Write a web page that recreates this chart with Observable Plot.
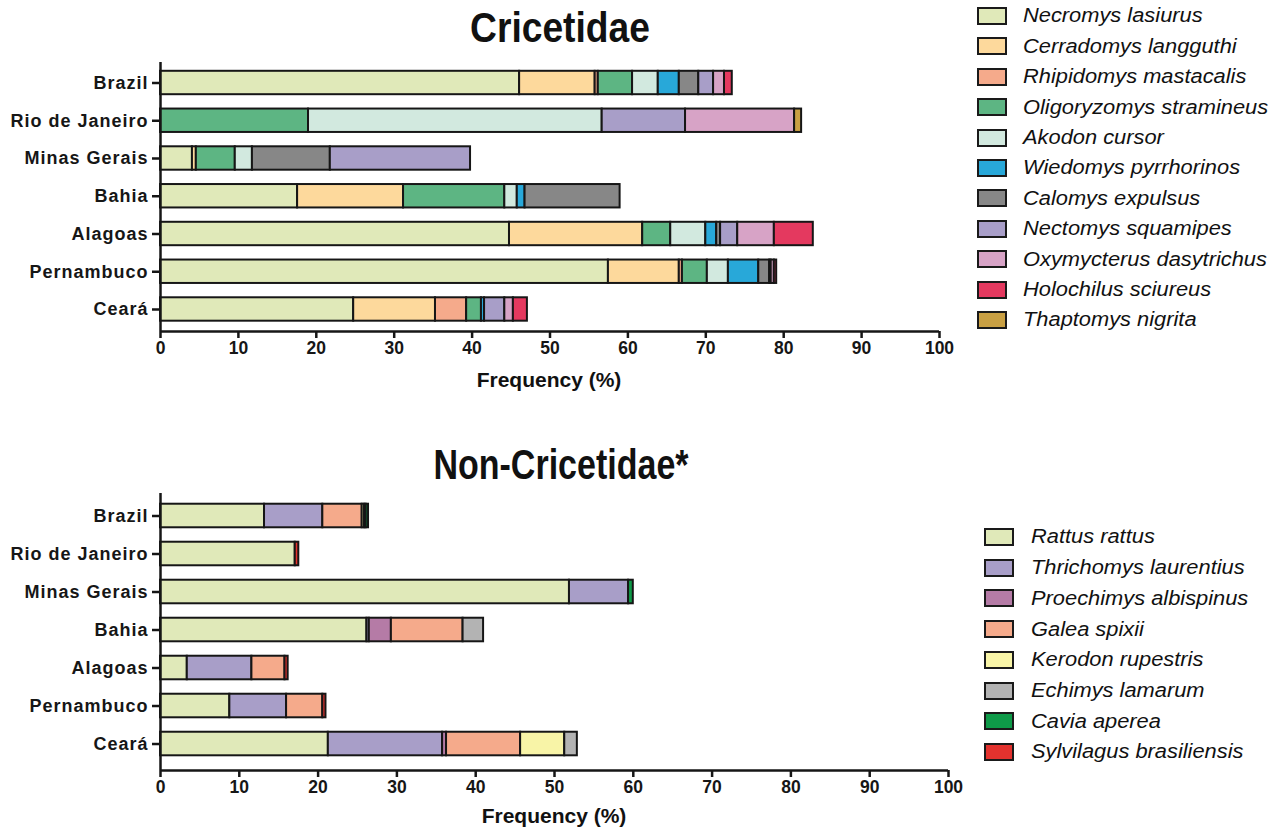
<!DOCTYPE html>
<html>
<head>
<meta charset="utf-8">
<script src="https://cdn.jsdelivr.net/npm/d3@7"></script>
<script src="https://cdn.jsdelivr.net/npm/@observablehq/plot@0.6"></script>
<style>
  html, body { margin: 0; padding: 0; background: #fff; }
  #wrap { position: relative; width: 1282px; height: 829px; overflow: hidden; background: #fff; }
  .title { font-family: 'Liberation Sans', Arial, sans-serif; font-weight: bold; font-size: 42px; line-height: 1; color: #111; white-space: nowrap; text-align: center; }
  .xlabel { font-family: 'Liberation Sans', Arial, sans-serif; font-weight: bold; font-size: 21px; line-height: 1; text-align: center; color: #111; white-space: nowrap; }
  .leg-sw { position: absolute; box-sizing: border-box; border: 2px solid #1a1a1a; }
  .leg-tx { position: absolute; font-family: 'Liberation Sans', Arial, sans-serif; font-style: italic; font-size: 19.5px; line-height: 1; color: #111; white-space: nowrap; transform: scaleX(1.12); transform-origin: left center; }
  .rchart [aria-label="y-axis tick label"] { letter-spacing: 1px; }
</style>
</head>
<body>
<div id="wrap"></div>
<script>
// ---------- data ----------
const regions = ["Brazil", "Rio de Janeiro", "Minas Gerais", "Bahia", "Alagoas", "Pernambuco", "Ceará"];
const xTicks = [0, 10, 20, 30, 40, 50, 60, 70, 80, 90, 100];

// Cricetidae species (legend order = stacking order)
const cricetidaeSpecies = ["Necromys lasiurus", "Cerradomys langguthi", "Rhipidomys mastacalis", "Oligoryzomys stramineus", "Akodon cursor", "Wiedomys pyrrhorinos", "Calomys expulsus", "Nectomys squamipes", "Oxymycterus dasytrichus", "Holochilus sciureus", "Thaptomys nigrita"];
const cricetidaeColors = ["#e0e9b9", "#fdd99c", "#f5aa8b", "#5db583", "#d2e9df", "#28a8d9", "#878787", "#a89ec8", "#d7a3c6", "#e4395f", "#c9a043"];
// values per region: Brazil, RJ, MG, Bahia, Alagoas, Pernambuco, Ceará
const necromysLasiurus       = [46.1,  0.0,  4.1, 17.6, 44.8, 57.5, 24.8];
const cerradomysLangguthi    = [ 9.7,  0.0,  0.5, 13.6, 17.1,  9.1, 10.5];
const rhipidomysMastacalis   = [ 0.4,  0.0,  0.0,  0.0,  0.0,  0.4,  4.0];
const oligoryzomysStramineus = [ 4.4, 19.0,  5.0, 13.0,  3.6,  3.2,  1.9];
const akodonCursor           = [ 3.3, 37.7,  2.2,  1.6,  4.5,  2.7,  0.0];
const wiedomysPyrrhorinos    = [ 2.7,  0.0,  0.0,  1.0,  1.4,  3.9,  0.4];
const calomysExpulsus        = [ 2.5,  0.0, 10.0, 12.2,  0.5,  1.4,  0.0];
const nectomysSquamipes      = [ 1.9, 10.7, 18.0,  0.0,  2.2,  0.2,  2.6];
const oxymycterusDasytrichus = [ 1.4, 14.0,  0.0,  0.0,  4.7,  0.4,  1.1];
const holochilusSciureus     = [ 1.0,  0.0,  0.0,  0.0,  5.0,  0.3,  1.8];
const thaptomysNigrita       = [ 0.0,  0.9,  0.0,  0.0,  0.0,  0.0,  0.0];
const cricetidaeSeries = [necromysLasiurus, cerradomysLangguthi, rhipidomysMastacalis, oligoryzomysStramineus, akodonCursor, wiedomysPyrrhorinos, calomysExpulsus, nectomysSquamipes, oxymycterusDasytrichus, holochilusSciureus, thaptomysNigrita];

// Non-Cricetidae species
const nonCricetidaeSpecies = ["Rattus rattus", "Thrichomys laurentius", "Proechimys albispinus", "Galea spixii", "Kerodon rupestris", "Echimys lamarum", "Cavia aperea", "Sylvilagus brasiliensis"];
const nonCricetidaeColors = ["#e0e9b9", "#a89ec8", "#b57ba6", "#f5aa8b", "#f8f4a7", "#b3b3b3", "#0e9a48", "#e3322e"];
const rattusRattus           = [13.2, 17.1, 51.9, 26.2,  3.4,  8.8, 21.3];
const thrichomysLaurentius   = [ 7.4,  0.0,  7.5,  0.3,  8.2,  7.2, 14.5];
const proechimysAlbispinus   = [ 0.0,  0.0,  0.0,  2.8,  0.0,  0.0,  0.5];
const galeaSpixii            = [ 5.0,  0.0,  0.0,  9.1,  4.2,  4.6,  9.4];
const kerodonRupestris       = [ 0.3,  0.0,  0.0,  0.0,  0.0,  0.0,  5.6];
const echimysLamarum         = [ 0.2,  0.0,  0.0,  2.6,  0.0,  0.0,  1.6];
const caviaAperea            = [ 0.3,  0.0,  0.6,  0.0,  0.0,  0.0,  0.0];
const sylvilagusBrasiliensis = [ 0.0,  0.45, 0.0,  0.0,  0.4,  0.4,  0.0];
const nonCricetidaeSeries = [rattusRattus, thrichomysLaurentius, proechimysAlbispinus, galeaSpixii, kerodonRupestris, echimysLamarum, caviaAperea, sylvilagusBrasiliensis];

// ---------- helpers ----------
function tidy(speciesList, seriesList) {
  const rows = [];
  speciesList.forEach((sp, s) => {
    regions.forEach((r, i) => {
      const v = seriesList[s][i];
      if (v > 0) rows.push({region: r, idx: i, species: sp, value: v});
    });
  });
  return rows;
}

const FONT = "'Liberation Sans', Arial, sans-serif";
const INK = "#161616";

function chart({species, colors, series, width, height, mL, mR, mT, mB, yDomain}) {
  const rows = tidy(species, series);
  const half = 0.31;
  return Plot.plot({
    className: "rchart",
    width, height,
    marginLeft: mL, marginRight: mR, marginTop: mT, marginBottom: mB,
    style: {background: "transparent", color: INK, fontFamily: FONT, overflow: "visible"},
    x: {domain: [0, 100]},
    y: {domain: yDomain, reverse: true},
    color: {domain: species, range: colors},
    marks: [
      Plot.rect(rows, Plot.stackX({
        x: "value",
        y1: d => d.idx - half,
        y2: d => d.idx + half,
        fill: "species",
        stroke: INK,
        strokeWidth: 2
      })),
      Plot.ruleX([0], {stroke: INK, strokeWidth: 2.5}),
      Plot.ruleY([yDomain[1]], {stroke: INK, strokeWidth: 2.5}),
      Plot.axisX({ticks: xTicks, tickFormat: d => String(d), tickSize: 7, tickPadding: 3, stroke: INK, strokeWidth: 2.5,
                  fontSize: 17.5, fontWeight: "bold", fontFamily: FONT, label: null}),
      Plot.axisY({ticks: d3.range(regions.length), tickFormat: i => regions[i], tickSize: 8, tickPadding: 4,
                  stroke: INK, strokeWidth: 2.5, fontSize: 18, fontWeight: "bold", fontFamily: FONT, label: null})
    ]
  });
}

const wrap = document.getElementById("wrap");
function place(el, left, topPx) {
  el.style.position = "absolute";
  el.style.left = left + "px";
  el.style.top = topPx + "px";
  wrap.appendChild(el);
  return el;
}
function div(cls, text, left, topPx, width) {
  const d = document.createElement("div");
  d.className = cls;
  d.textContent = text;
  if (width != null) d.style.width = width + "px";
  return place(d, left, topPx);
}

// ---------- top chart ----------
const topChart = chart({
  species: cricetidaeSpecies, colors: cricetidaeColors, series: cricetidaeSeries,
  width: 980, height: 400, mL: 160, mR: 41, mT: 62, mB: 69, yDomain: [-0.543, 6.583]
});
place(topChart, 0, 0);

// ---------- bottom chart ----------
const bottomChart = chart({
  species: nonCricetidaeSpecies, colors: nonCricetidaeColors, series: nonCricetidaeSeries,
  width: 980, height: 389, mL: 160, mR: 32, mT: 53, mB: 59, yDomain: [-0.592, 6.697]
});
place(bottomChart, 0, 440);

// ---------- titles & axis labels ----------
const t1 = div("title", "Cricetidae", 0, 28 - 0.49 * 42, 1120);
t1.style.transform = "scaleX(0.886)";
t1.style.transformOrigin = "560px 50%";
const t2 = div("title", "Non-Cricetidae*", 0, 465 - 0.49 * 42, 1122);
t2.style.transform = "scaleX(0.81)";
t2.style.transformOrigin = "561px 50%";
div("xlabel", "Frequency (%)", 0, 379 - 0.49 * 21, 1098);
div("xlabel", "Frequency (%)", 0, 815 - 0.49 * 21, 1108);

// ---------- legends ----------
function legend(species, colors, swLeft, txLeft, y0, step) {
  species.forEach((sp, i) => {
    const cy = y0 + step * i;
    const sw = document.createElement("div");
    sw.className = "leg-sw";
    sw.style.width = "30px";
    sw.style.height = "18px";
    sw.style.background = colors[i];
    place(sw, swLeft, cy - 9);
    div("leg-tx", sp, txLeft, cy - 0.49 * 19.5);
  });
}
legend(cricetidaeSpecies, cricetidaeColors, 977, 1023, 16, 30.4);
legend(nonCricetidaeSpecies, nonCricetidaeColors, 984, 1031, 537, 30.7);
</script>
</body>
</html>
